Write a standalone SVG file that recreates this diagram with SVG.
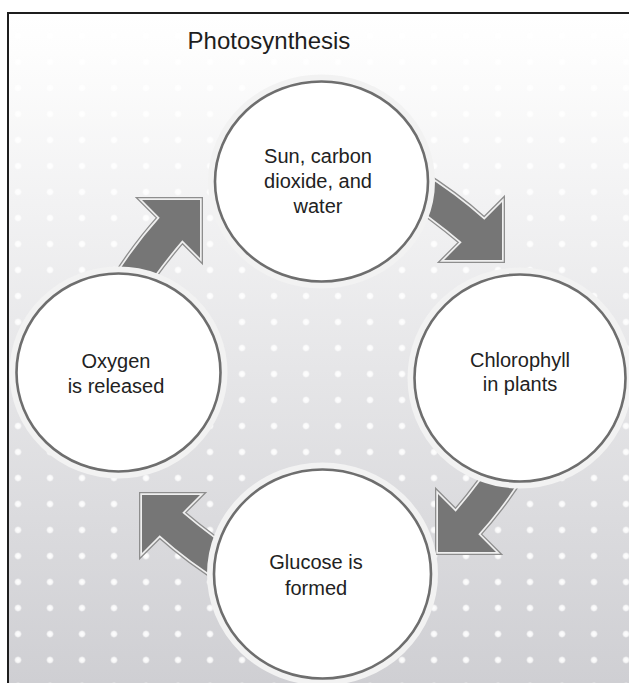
<svg xmlns="http://www.w3.org/2000/svg" xmlns:xlink="http://www.w3.org/1999/xlink" width="629" height="683" viewBox="0 0 629 683">
  <defs>
    <linearGradient id="bg" x1="0" y1="13" x2="0" y2="683" gradientUnits="userSpaceOnUse">
      <stop offset="0" stop-color="#ffffff"/>
      <stop offset="0.06" stop-color="#fdfdfd"/>
      <stop offset="1" stop-color="#cfcfd3"/>
    </linearGradient>
    <radialGradient id="dotg">
      <stop offset="0" stop-color="#ffffff" stop-opacity="1"/>
      <stop offset="0.6" stop-color="#ffffff" stop-opacity="0.8"/>
      <stop offset="1" stop-color="#ffffff" stop-opacity="0"/>
    </radialGradient>
    <pattern id="dots" x="2" y="-3" width="32" height="26" patternUnits="userSpaceOnUse">
      <circle cx="16" cy="13" r="4" fill="url(#dotg)"/>
    </pattern>
    <path id="arr" d="M0,0 L-41,-41 L-41,-16 Q-80,-14 -122,-4 L-122,28 Q-80,19 -41,16 L-41,41 Z"/>
  </defs>
  <style>
    .ring-halo { fill: none; stroke: #f2f2f2; stroke-width: 7; }
    .ring { fill: #ffffff; stroke: #6e6e6e; stroke-width: 2.6; }
    .lbl { font-family: "Liberation Sans", Arial, sans-serif; font-size: 20px; fill: #222222; text-anchor: middle; }
    .title { font-family: "Liberation Sans", Arial, sans-serif; font-size: 24px; fill: #1e1e1e; text-anchor: middle; }
    .a-out { fill: none; stroke: #8e8e8e; stroke-width: 6; stroke-linejoin: miter; }
    .a-in { fill: none; stroke: #efefef; stroke-width: 3.4; stroke-linejoin: miter; }
    .a-fill { fill: #767676; stroke: none; }
  </style>

  <rect x="0" y="0" width="629" height="683" fill="#ffffff"/>
  <rect x="8" y="13" width="621" height="670" fill="url(#bg)"/>
  <rect x="8" y="13" width="621" height="670" fill="url(#dots)"/>
  <path d="M8,683 L8,13 L629,13" fill="none" stroke="#1e1e1e" stroke-width="2"/>

  <text class="title" x="269" y="49">Photosynthesis</text>

  <g id="connectors">
    <g transform="translate(200,200) rotate(-45)">
      <use xlink:href="#arr" class="a-out"/><use xlink:href="#arr" class="a-in"/><use xlink:href="#arr" class="a-fill"/>
    </g>
    <g transform="translate(502,260) rotate(45)">
      <use xlink:href="#arr" class="a-out"/><use xlink:href="#arr" class="a-in"/><use xlink:href="#arr" class="a-fill"/>
    </g>
    <g transform="translate(438,552) rotate(135)">
      <use xlink:href="#arr" class="a-out"/><use xlink:href="#arr" class="a-in"/><use xlink:href="#arr" class="a-fill"/>
    </g>
    <g transform="translate(142,495) rotate(225)">
      <use xlink:href="#arr" class="a-out"/><use xlink:href="#arr" class="a-in"/><use xlink:href="#arr" class="a-fill"/>
    </g>
  </g>

  <g id="node-sun">
    <ellipse class="ring-halo" cx="321.5" cy="181.5" rx="110" ry="103.5"/>
    <ellipse class="ring" cx="321.5" cy="181.5" rx="106.5" ry="100"/>
    <text class="lbl" x="318" y="163">Sun, carbon</text>
    <text class="lbl" x="318" y="188">dioxide, and</text>
    <text class="lbl" x="318" y="213">water</text>
  </g>

  <g id="node-chlorophyll">
    <ellipse class="ring-halo" cx="520" cy="378" rx="109" ry="107"/>
    <ellipse class="ring" cx="520" cy="378" rx="105.5" ry="103.5"/>
    <text class="lbl" x="520" y="367">Chlorophyll</text>
    <text class="lbl" x="520" y="391">in plants</text>
  </g>

  <g id="node-glucose">
    <ellipse class="ring-halo" cx="322.5" cy="574" rx="112" ry="108"/>
    <ellipse class="ring" cx="322.5" cy="574" rx="108.5" ry="104.5"/>
    <text class="lbl" x="316" y="569">Glucose is</text>
    <text class="lbl" x="316" y="595">formed</text>
  </g>

  <g id="node-oxygen">
    <ellipse class="ring-halo" cx="118.5" cy="372.5" rx="105.5" ry="102.5"/>
    <ellipse class="ring" cx="118.5" cy="372.5" rx="102" ry="99"/>
    <text class="lbl" x="116" y="368">Oxygen</text>
    <text class="lbl" x="116" y="393">is released</text>
  </g>
</svg>
